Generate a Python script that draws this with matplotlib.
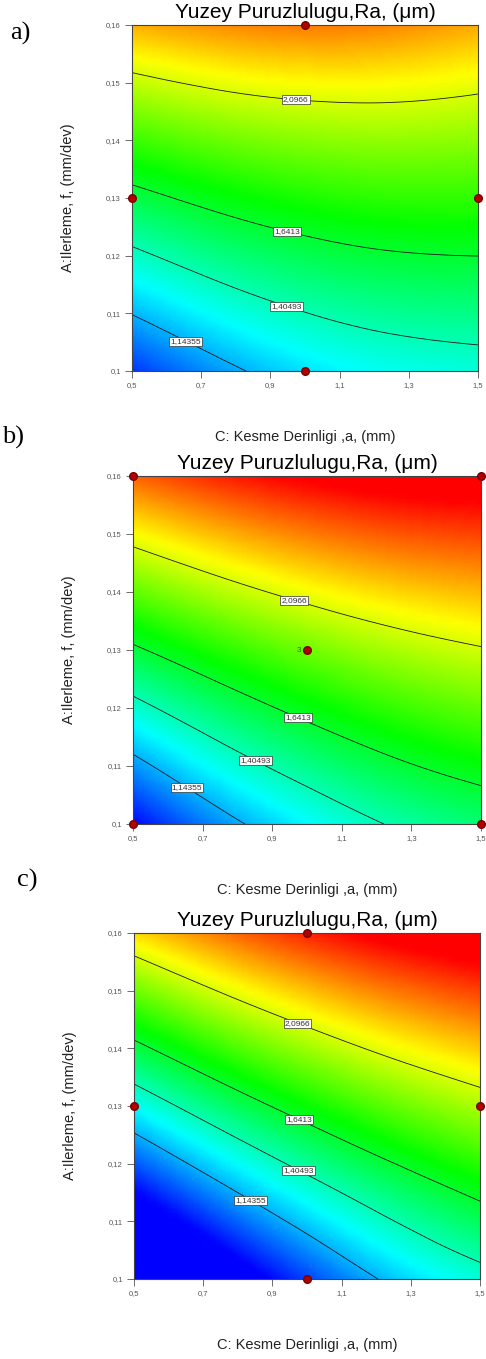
import numpy as np
import matplotlib
matplotlib.use("Agg")
import matplotlib.pyplot as plt
import matplotlib.tri as mtri
from matplotlib.colors import LinearSegmentedColormap, Normalize

plt.rcParams['font.family'] = ['Liberation Sans', 'DejaVu Sans']

# factor levels the surfaces were read on
depth = [0.5, 0.75, 1.0, 1.25, 1.5]        # C: a (mm)
feed = [0.10, 0.115, 0.13, 0.145, 0.16]    # A: f (mm/dev)

# Ra, rows = feed, cols = depth
ra_a = [[0.925, 1.097, 1.225, 1.300, 1.335],
        [1.260, 1.395, 1.490, 1.545, 1.565],
        [1.590, 1.692, 1.761, 1.796, 1.799],
        [1.935, 2.012, 2.056, 2.066, 2.044],
        [2.300, 2.360, 2.390, 2.370, 2.310]]
ra_b = [[0.836, 1.085, 1.270, 1.420, 1.520],
        [1.221, 1.425, 1.585, 1.710, 1.795],
        [1.615, 1.779, 1.912, 2.014, 2.085],
        [2.020, 2.158, 2.266, 2.343, 2.389],
        [2.434, 2.548, 2.630, 2.682, 2.702]]
ra_c = [[0.373, 0.680, 0.950, 1.180, 1.340],
        [0.828, 1.095, 1.325, 1.518, 1.675],
        [1.287, 1.522, 1.722, 1.889, 2.021],
        [1.752, 1.959, 2.132, 2.271, 2.376],
        [2.221, 2.401, 2.546, 2.658, 2.735]]

levels = [1.14355, 1.40493, 1.6413, 2.0966]
level_txt = {1.14355: "1,14355", 1.40493: "1,40493", 1.6413: "1,6413", 2.0966: "2,0966"}

# design points shown as red dots
pts_a_x = [1.0, 0.5, 1.5, 1.0]
pts_a_y = [0.16, 0.13, 0.13, 0.10]
pts_b_x = [0.5, 1.5, 0.5, 1.5, 1.0]
pts_b_y = [0.16, 0.16, 0.10, 0.10, 0.13]
pts_c_x = [1.0, 0.5, 1.5, 1.0]
pts_c_y = [0.16, 0.13, 0.13, 0.10]

xticks = [0.5, 0.7, 0.9, 1.1, 1.3, 1.5]
xtick_lbl = ["0,5", "0,7", "0,9", "1,1", "1,3", "1,5"]
yticks = [0.10, 0.11, 0.12, 0.13, 0.14, 0.15, 0.16]
ytick_lbl = ["0,1", "0,11", "0,12", "0,13", "0,14", "0,15", "0,16"]

title = "Yuzey Puruzlulugu,Ra, (μm)"
xlab = "C: Kesme Derinligi ,a, (mm)"
ylab = "A:Ilerleme, f, (mm/dev)"

# layout in pixels and label anchor spots per panel
W, H = 486, 1359
boxes = [(132, 25, 346, 346), (133, 476, 348, 348), (134, 933, 346, 346)]
letters = [("a)", 10, 33), ("b)", 2, 437), ("c)", 17, 880)]
lbl_pos = [
    [(0.66, 0.1057), (0.949, 0.1116), (0.947, 0.124), (0.973, 0.1469)],
    [(0.661, 0.1068), (0.855, 0.1113), (0.975, 0.1183), (0.961, 0.1381)],
    [(0.837, 0.1136), (0.973, 0.1185), (0.973, 0.1272), (0.970, 0.1440)],
]

cmap = LinearSegmentedColormap.from_list(
    "de", ["#0000ff", "#00ffff", "#00ff00", "#ffff00", "#ff0000"])
norm = Normalize(vmin=0.83, vmax=2.61)

fig = plt.figure(figsize=(W / 100, H / 100), dpi=100)

X, Y = np.meshgrid(depth, feed)
tri = mtri.Triangulation(X.ravel(), Y.ravel())
refiner = mtri.UniformTriRefiner(tri)

panels = [(ra_a, pts_a_x, pts_a_y), (ra_b, pts_b_x, pts_b_y), (ra_c, pts_c_x, pts_c_y)]
for i, (ra, px, py) in enumerate(panels):
    l, t, w, h = boxes[i]
    ax = fig.add_axes([l / W, 1 - (t + h) / H, w / W, h / H])
    z = np.array(ra).ravel()
    interp = mtri.CubicTriInterpolator(tri, z, kind="min_E")
    tri_f, z_f = refiner.refine_field(z, triinterpolator=interp, subdiv=4)

    ax.tripcolor(tri_f, z_f, shading="gouraud", cmap=cmap, norm=norm)
    cs = ax.tricontour(tri_f, z_f, levels=levels, colors="#1a1a1a", linewidths=0.6)
    ax.set_xlim(0.5, 1.5)
    ax.set_ylim(0.10, 0.16)

    texts = ax.clabel(cs, levels, manual=lbl_pos[i], inline=False,
                      fmt=level_txt, fontsize=6, colors="#333333")
    for tx in texts:
        tx.set_rotation(0)
        tx.set_bbox(dict(fc="white", ec="#333333", lw=0.5, pad=0.8))

    ax.plot(px, py, "o", color="#b00000", mec="#7a0000", ms=5.5, clip_on=False, zorder=5)
    if i == 1:
        ax.text(0.985, 0.13, "3", color="#2e6b00", fontsize=6, ha="right", va="center")

    ax.set_xticks(xticks)
    ax.set_xticklabels(xtick_lbl)
    ax.set_yticks(yticks)
    ax.set_yticklabels(ytick_lbl)
    ax.tick_params(labelsize=5.5, colors="#555555", length=5, width=0.6, pad=3)
    for sp in ax.spines.values():
        sp.set_color("#444444")
        sp.set_linewidth(0.8)

    ax.set_title(title, fontsize=15, pad=5)
    ax.text(0.5, -66 / h, xlab, transform=ax.transAxes, ha="center", va="center",
            fontsize=10.5, color="#222222")
    ax.text(-64 / w, 0.5, ylab, transform=ax.transAxes, ha="center", va="center",
            rotation=90, fontsize=10.5, color="#222222")

for s, x, y in letters:
    fig.text(x / W, 1 - y / H, s, family=["Liberation Serif", "DejaVu Serif"],
             fontsize=19, ha="left", va="center")

fig.savefig("out.png", dpi=100)
